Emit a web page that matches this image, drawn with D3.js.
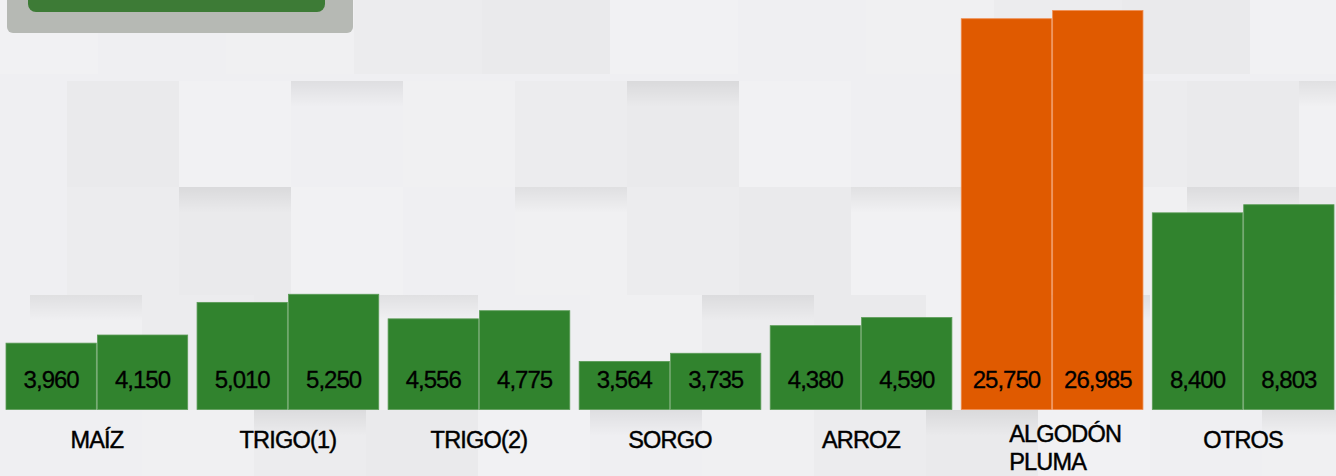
<!DOCTYPE html>
<html>
<head>
<meta charset="utf-8">
<script src="https://cdn.jsdelivr.net/npm/d3@7"></script>
<style>
  html, body { margin: 0; padding: 0; background: #efeff2; }
  svg { display: block; }
</style>
</head>
<body>
<svg id="chart" width="1336" height="476"></svg>
<script>
// ---- data ----
const categories = ["MAÍZ", "TRIGO(1)", "TRIGO(2)", "SORGO", "ARROZ", "ALGODÓN PLUMA", "OTROS"];
const seriesA = [3960, 5010, 4556, 3564, 4380, 25750, 8400];
const seriesB = [4150, 5250, 4775, 3735, 4590, 26985, 8803];
const highlightCategory = "ALGODÓN PLUMA";

// ---- setup ----
const W = 1336, H = 476;
const svg = d3.select("#chart");
const baseY = 409.5;

// decorative tiled background
const defs = svg.append("defs");
const sh = defs.append("linearGradient").attr("id", "shadow").attr("x1", 0).attr("y1", 0).attr("x2", 0).attr("y2", 1);
sh.append("stop").attr("offset", "0%").attr("stop-color", "#000").attr("stop-opacity", 0.07);
sh.append("stop").attr("offset", "100%").attr("stop-color", "#000").attr("stop-opacity", 0);
const bgRows = [
  {y0: -2, y1: 74, x0: -30, w: 128},
  {y0: 81, y1: 187, x0: 67, w: 112},
  {y0: 187, y1: 295, x0: 67, w: 112},
  {y0: 295, y1: 410, x0: 30, w: 112},
  {y0: 410, y1: 476, x0: 30, w: 112}
];
const shades = ["#f1f1f3", "#ececee", "#efeff2", "#eaeaec", "#f0f0f2"];
const bg = svg.append("g");
bg.append("rect").attr("width", W).attr("height", H).attr("fill", "#efeff2");
bgRows.forEach((r, ri) => {
  for (let i = 0, x = r.x0; x < W; i++, x += r.w) {
    bg.append("rect").attr("x", x).attr("y", r.y0).attr("width", r.w).attr("height", r.y1 - r.y0)
      .attr("fill", shades[(i * 2 + ri * 3) % shades.length]);
    if (ri > 0 && (i + ri) % 3 === 0) {
      bg.append("rect").attr("x", x).attr("y", r.y0).attr("width", r.w).attr("height", 26)
        .attr("fill", "url(#shadow)");
    }
  }
});

// top-left button remnant
svg.append("rect").attr("x", 7).attr("y", -10).attr("width", 346).attr("height", 43)
  .attr("rx", 6).attr("fill", "#b6b9b4");
svg.append("rect").attr("x", 28).attr("y", -10).attr("width", 297).attr("height", 22)
  .attr("rx", 8).attr("fill", "#3d7b36");

// ---- scales ----
const x0 = d3.scaleBand().domain(categories).range([6, 1334]).paddingInner(0.049).paddingOuter(0);
const x1 = d3.scaleBand().domain([0, 1]).range([0, x0.bandwidth()]).paddingInner(0.012);
const y = d3.scaleLog().domain([2700, 27000]).range([baseY, 10.5]);
const fmt = d3.format(",");

const rows = categories.map((c, i) => ({cat: c, vals: [seriesA[i], seriesB[i]]}));

const groups = svg.append("g").selectAll("g").data(rows).join("g")
  .attr("transform", d => `translate(${x0(d.cat)},0)`);

groups.selectAll("rect").data(d => d.vals.map((v, k) => ({v, k, cat: d.cat}))).join("rect")
  .attr("x", d => x1(d.k))
  .attr("y", d => y(d.v))
  .attr("width", x1.bandwidth())
  .attr("height", d => baseY - y(d.v))
  .attr("fill", d => d.cat === highlightCategory ? "#e05a00" : "#31832e")
  .attr("stroke", d => d.cat === highlightCategory ? "#f08a4c" : "#5c9c58")
  .attr("stroke-width", 0.8);

groups.selectAll("text.val").data(d => d.vals.map((v, k) => ({v, k}))).join("text")
  .attr("class", "val")
  .attr("x", d => x1(d.k) + x1.bandwidth() / 2)
  .attr("y", 388)
  .attr("text-anchor", "middle")
  .attr("font-family", "Liberation Sans, Arial, sans-serif")
  .attr("font-size", 24)
  .attr("letter-spacing", -1)
  .attr("fill", "#000")
  .attr("stroke", "#000")
  .attr("stroke-width", 0.3)
  .text(d => fmt(d.v));

// category labels
const catG = svg.append("g");
rows.forEach(d => {
  const parts = d.cat.split(" ");
  const cx = x0(d.cat) + x0.bandwidth() / 2;
  const t = catG.append("text")
    .attr("font-family", "Liberation Sans, Arial, sans-serif")
    .attr("font-size", 23.5)
    .attr("letter-spacing", -0.8)
    .attr("fill", "#000")
    .attr("stroke", "#000")
    .attr("stroke-width", 0.45);
  if (parts.length === 1) {
    t.attr("x", cx).attr("y", 448).attr("text-anchor", "middle").text(d.cat);
  } else {
    parts.forEach((p, i) => t.append("tspan").attr("y", 442 + i * 28.3).text(p));
    const widths = [];
    t.selectAll("tspan").each(function() { widths.push(this.getComputedTextLength()); });
    const mw = d3.max(widths);
    t.selectAll("tspan").attr("x", cx + 13 - mw / 2);
  }
});
</script>
</body>
</html>
